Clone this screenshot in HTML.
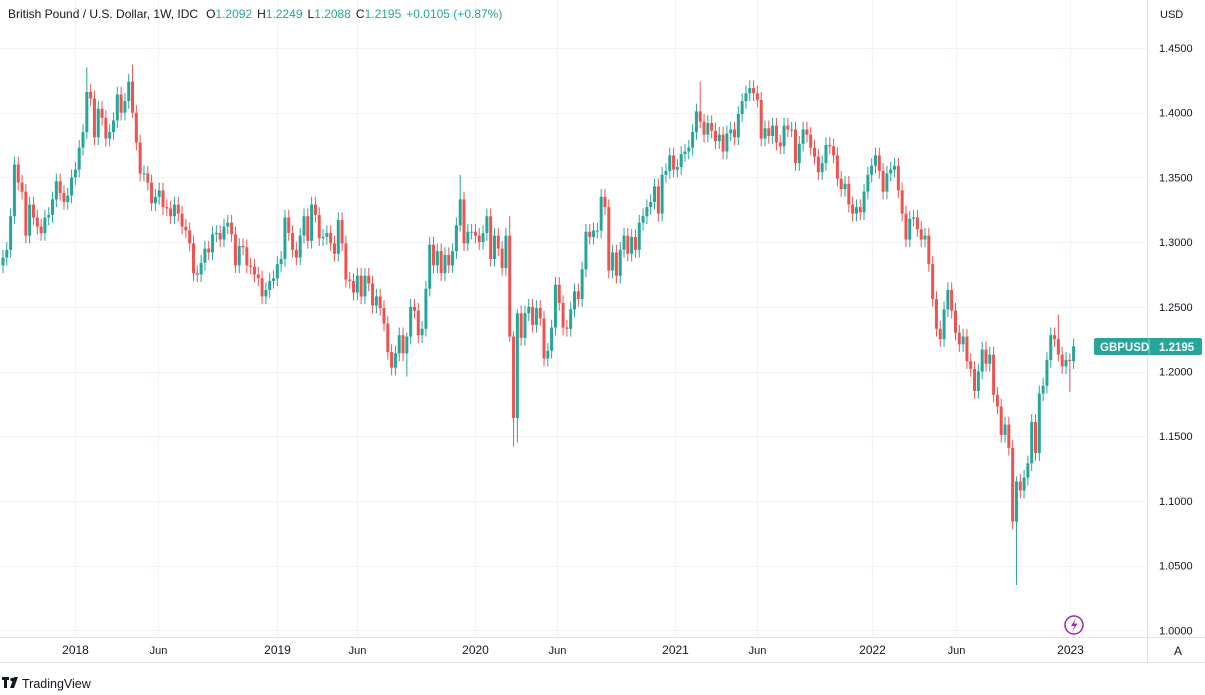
<!DOCTYPE html>
<html><head><meta charset="utf-8"><style>
body{margin:0;background:#fff;}
svg{display:block;font-family:"Liberation Sans",sans-serif;}
</style></head><body>
<svg id="chart" width="1205" height="695" viewBox="0 0 1205 695" xmlns="http://www.w3.org/2000/svg">
<rect x="0" y="0" width="1205" height="695" fill="#fff"/>
<g id="grid"></g>
<g id="candles"></g>
<line x1="1147.5" y1="0" x2="1147.5" y2="662" stroke="#e0e3eb"/>
<line x1="0" y1="637.5" x2="1205" y2="637.5" stroke="#e0e3eb"/>
<line x1="0" y1="662.5" x2="1205" y2="662.5" stroke="#e0e3eb"/>
<g id="yaxis"></g>
<g id="xaxis"></g>
<text x="1160" y="18" font-size="11" fill="#131722">USD</text>
<text x="8" y="18" font-size="12" fill="#131722">British Pound / U.S. Dollar, 1W, IDC<tspan dx="8">O</tspan><tspan fill="#26a69a">1.2092</tspan><tspan dx="5">H</tspan><tspan fill="#26a69a">1.2249</tspan><tspan dx="5">L</tspan><tspan fill="#26a69a">1.2088</tspan><tspan dx="5">C</tspan><tspan fill="#26a69a">1.2195</tspan><tspan dx="5" fill="#26a69a">+0.0105 (+0.87%)</tspan></text>
<g>
<rect x="1094" y="338" width="108" height="17" rx="2" fill="#26a69a"/>
<line x1="1149" y1="339" x2="1149" y2="354" stroke="#fff" stroke-opacity="0.5"/>
<text x="1100" y="351" font-size="11.5" fill="#fff" font-weight="bold">GBPUSD</text>
<text x="1159" y="351" font-size="11.5" fill="#fff" font-weight="bold">1.2195</text>
</g>
<g>
<circle cx="1074" cy="625" r="9" fill="#fff" stroke="#9c27b0" stroke-width="1.5"/>
<path d="M1076 618 L1071 626 L1074.5 626 L1072 632 L1077.5 623.5 L1074 623.5 Z" fill="#9c27b0"/>
</g>
<g>
<rect x="1168" y="640" width="20" height="20" rx="3" fill="#fff"/>
<text x="1178" y="655" font-size="12" fill="#131722" text-anchor="middle">A</text>
</g>
<g>
<path d="M2 677 h7 v3 h-2 v8 h-3 v-8 h-2 z" fill="#131722"/>
<circle cx="12" cy="679.5" r="1.7" fill="#131722"/>
<path d="M14 677 h4 l-4 11 h-4 z" fill="#131722"/>
<text x="22" y="688" font-size="12.5" fill="#131722">TradingView</text>
</g>
</svg>
<script>
const closes=[1.288,1.294,1.32,1.36,1.346,1.339,1.305,1.329,1.319,1.312,1.307,1.319,1.321,1.333,1.347,1.338,1.331,1.336,1.35,1.356,1.373,1.385,1.416,1.411,1.381,1.403,1.396,1.38,1.385,1.394,1.414,1.40,1.409,1.424,1.40,1.377,1.353,1.353,1.346,1.33,1.335,1.34,1.327,1.326,1.32,1.329,1.322,1.312,1.309,1.299,1.276,1.275,1.284,1.295,1.292,1.306,1.307,1.302,1.312,1.315,1.306,1.282,1.297,1.296,1.282,1.281,1.275,1.272,1.258,1.263,1.27,1.272,1.283,1.287,1.319,1.307,1.294,1.288,
1.305,1.32,1.301,1.329,1.321,1.303,1.304,1.307,1.299,1.291,1.317,1.299,1.271,1.27,1.261,1.274,1.258,1.274,1.268,1.251,1.258,1.249,1.237,1.215,1.203,1.214,1.228,1.214,1.227,1.25,1.247,1.228,1.233,1.264,1.298,1.282,1.293,1.276,1.29,1.282,1.293,1.313,1.333,1.299,1.308,1.308,1.305,1.30,1.307,1.32,1.287,1.305,1.295,1.28,1.305,1.227,1.164,1.245,1.226,1.245,1.25,1.236,1.249,1.241,1.21,1.216,1.234,1.267,1.253,1.234,1.233,1.248,1.262,1.256,1.279,1.308,
1.304,1.309,1.309,1.335,1.327,1.278,1.292,1.274,1.294,1.305,1.291,1.304,1.294,1.315,1.32,1.327,1.331,1.343,1.322,1.352,1.355,1.367,1.356,1.358,1.368,1.37,1.373,1.385,1.401,1.393,1.383,1.392,1.386,1.378,1.383,1.37,1.384,1.387,1.381,1.399,1.409,1.415,1.419,1.415,1.41,1.38,1.388,1.382,1.39,1.377,1.374,1.39,1.387,1.387,1.361,1.376,1.387,1.383,1.373,1.366,1.354,1.361,1.375,1.374,1.367,1.349,1.341,1.345,1.329,1.322,1.327,1.323,1.339,1.352,1.359,1.367,
1.355,1.339,1.353,1.356,1.359,1.34,1.322,1.302,1.318,1.319,1.31,1.302,1.305,1.283,1.256,1.233,1.225,1.248,1.263,1.247,1.23,1.221,1.227,1.208,1.202,1.185,1.20,1.217,1.206,1.213,1.182,1.173,1.151,1.159,1.141,1.084,1.115,1.108,1.118,1.129,1.161,1.137,1.183,1.189,1.209,1.228,1.225,1.213,1.204,1.209,1.208,1.2195];
const firstOpen=1.282;
const spikeIdx=[22,34,106,120,133,134,135,183,266,277,280];
const spikeHi=[0.019,0.013,0.003,0.019,0.015,0.004,0.003,0.023,0.004,0.019,0.005];
const spikeLo=[0.005,0.004,0.018,0.005,0.004,0.022,0.019,0.005,0.049,0.005,0.024];
const priceTicks=[1.45,1.40,1.35,1.30,1.25,1.20,1.15,1.10,1.05,1.00];
const timeLabels=["2018","Jun","2019","Jun","2020","Jun","2021","Jun","2022","Jun","2023"];
const timeWeeks=[18.9,40.6,71.9,92.9,123.9,145.4,176.4,198,228.2,250,280];

const NS="http://www.w3.org/2000/svg";
function x(i){return 3+i*3.81;}
function y(p){return 48+(1.45-p)*1294;}
function mk(tag,attrs,parent){const e=document.createElementNS(NS,tag);for(const k in attrs)e.setAttribute(k,attrs[k]);parent.appendChild(e);return e;}
const grid=document.getElementById('grid'),ya=document.getElementById('yaxis'),xa=document.getElementById('xaxis'),cg=document.getElementById('candles');
priceTicks.forEach(p=>{
  const l=mk('line',{x1:0,x2:1147,y1:Math.round(y(p))+0.5,y2:Math.round(y(p))+0.5,stroke:'#f0f3fa'},grid);
  
  
  const t=mk('text',{x:1159,y:y(p)+4,'font-size':11,fill:'#131722'},ya);
  t.textContent=p.toFixed(4);
  
  
});
timeLabels.forEach((s,k)=>{
  const xx=Math.round(x(timeWeeks[k]))+0.5;
  const l=mk('line',{x1:xx,x2:xx,y1:0,y2:637,stroke:'#f0f3fa'},grid);
  
  
  const t=mk('text',{x:xx,y:654,'font-size':s.length===4?12:11,'text-anchor':'middle',fill:'#131722'},xa);
  t.textContent=s;
  
  
});
closes.forEach((c,i)=>{
  const o=i===0?firstOpen:closes[i-1];
  const k=spikeIdx.indexOf(i);
  const hiEx=k>=0?spikeHi[k]:0.006, loEx=k>=0?spikeLo[k]:0.006;
  const h=Math.max(o,c)+hiEx,l=Math.min(o,c)-loEx;
  const col=c>=o?'#26a69a':'#ef5350';
  const g=mk('g',{},cg);
  
  
  const cx=x(i);
  mk('line',{x1:cx,x2:cx,y1:y(h),y2:y(l),stroke:col,'stroke-width':1},g);
  const top=y(Math.max(o,c)),bh=Math.max(1,y(Math.min(o,c))-top);
  mk('rect',{x:cx-1.5,y:top,width:3,height:bh,fill:col},g);
});
</script>
</body></html>
